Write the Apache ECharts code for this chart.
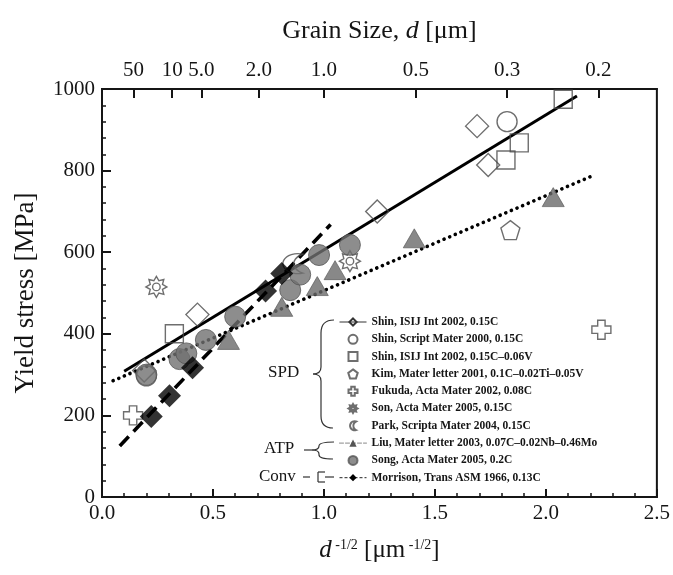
<!DOCTYPE html>
<html>
<head>
<meta charset="utf-8">
<script src="https://cdn.jsdelivr.net/npm/echarts@6/dist/echarts.min.js"></script>
<style>
  html, body { margin: 0; padding: 0; background: #fff; }
  #chart { width: 673px; height: 575px; }
</style>
</head>
<body>
<div id="chart"></div>
<script>
// legend names
const SHIN_ISIJ = 'Shin, ISIJ Int 2002, 0.15C';
const SHIN_SM = 'Shin, Script Mater 2000, 0.15C';
const SHIN_V = 'Shin, ISIJ Int 2002, 0.15C\u20130.06V';
const KIM = 'Kim, Mater letter 2001, 0.1C\u20130.02Ti\u20130.05V';
const FUKUDA = 'Fukuda, Acta Mater 2002, 0.08C';
const SON = 'Son, Acta Mater 2005, 0.15C';
const PARK = 'Park, Scripta Mater 2004, 0.15C';
const LIU = 'Liu, Mater letter 2003, 0.07C\u20130.02Nb\u20130.46Mo';
const SONG = 'Song, Acta Mater 2005, 0.2C';
const MORRISON = 'Morrison, Trans ASM 1966, 0.13C';

// data points [d^-1/2, yield stress]
const shinIsij = [[0.19, 310], [0.43, 447], [1.24, 700], [1.69, 909], [1.74, 814]];
const shinSm = [[0.2, 297], [1.825, 920]];
const shinV = [[0.326, 400], [1.82, 826], [1.88, 868], [2.078, 975]];
const kim = [[1.84, 654]];
const fukuda = [[0.14, 200], [2.25, 410]];
const son = [[0.245, 515], [1.117, 578]];
const park = [[0.86, 572]];
const liu = [[0.57, 385], [0.81, 466], [0.97, 517], [1.05, 556], [1.407, 634], [2.033, 735]];
const song = [[0.2, 300], [0.349, 338], [0.38, 352], [0.468, 385], [0.60, 442],
              [0.848, 507], [0.893, 545], [0.978, 593], [1.117, 618]];
const morrison = [[0.222, 197], [0.304, 248], [0.408, 317], [0.737, 505], [0.81, 548]];

// fit lines
const spdFit = [[0.1, 308], [2.14, 983]];
const atpFit = [[0.05, 285], [2.2, 785]];
const convFit = [[0.08, 125], [1.03, 668]];

// top axis: grain size ticks
const grainSizes = [50, 10, 5, 2, 1, 0.5, 0.3, 0.2];
const grainLabels = ['50', '10', '5.0', '2.0', '1.0', '0.5', '0.3', '0.2'];
const grainPos = grainSizes.map(d => 1 / Math.sqrt(d));

const FONT = 'Liberation Serif';
const INK = '#151515';
const OPEN = 'rgba(255,255,255,0)';

function sunPath() {
  let p = '';
  for (let i = 0; i < 16; i++) {
    const r = i % 2 === 0 ? 10 : 6.3;
    const a = i * Math.PI / 8 - Math.PI / 2;
    p += (i === 0 ? 'M' : 'L') + (r * Math.cos(a)).toFixed(2) + ',' + (r * Math.sin(a)).toFixed(2) + ' ';
  }
  p += 'Z M3.6,0 A3.6,3.6 0 1,1 -3.6,0 A3.6,3.6 0 1,1 3.6,0 Z';
  return 'path://' + p;
}

const SQUARE = 'path://M0,0 L10,0 L10,10 L0,10 Z';
const PENTAGON = 'path://M0,-10 L9.5,-3.1 L5.9,8.1 L-5.9,8.1 L-9.5,-3.1 Z';
const CROSS = 'path://M-3.5,-9 L3.5,-9 L3.5,-3.5 L9,-3.5 L9,3.5 L3.5,3.5 L3.5,9 L-3.5,9 L-3.5,3.5 L-9,3.5 L-9,-3.5 L-3.5,-3.5 Z';
const CRESCENT = 'path://M3,-9 A9.5,9.5 0 1,0 3,9 A10,10 0 0,1 3,-9 Z';

function openScatter(name, data, symbol, size) {
  return {
    name, type: 'scatter', data, symbol, symbolSize: size, z: 3,
    itemStyle: { color: OPEN, borderColor: '#4a4a4a', borderWidth: 1.4 }
  };
}

function fitLine(name, data, symbol, lineStyle, itemStyle) {
  return {
    name, type: 'line', data, symbol, showSymbol: false, silent: true, z: 2,
    lineStyle, itemStyle
  };
}

// bracket pieces for the legend groups
const bracketStyle = { stroke: '#333', lineWidth: 1.2, fill: null };
function seg(x1, y1, x2, y2) {
  return { type: 'line', silent: true, shape: { x1, y1, x2, y2 }, style: bracketStyle };
}
function quad(x1, y1, cx, cy, x2, y2) {
  return { type: 'bezierCurve', silent: true, shape: { x1, y1, x2, y2, cpx1: cx, cpy1: cy }, style: bracketStyle };
}

const chart = echarts.init(document.getElementById('chart'));

chart.setOption({
  animation: false,
  grid: {
    left: 102, right: 12, top: 89, bottom: 78,
    show: true, borderColor: INK, borderWidth: 2, backgroundColor: 'transparent'
  },
  xAxis: [
    {
      type: 'value', position: 'bottom', min: 0, max: 2.5, interval: 0.5,
      axisLine: { lineStyle: { color: INK, width: 2 } },
      axisTick: { inside: true, length: 8, lineStyle: { width: 2, color: INK } },
      minorTick: { show: true, splitNumber: 5, length: 4, lineStyle: { width: 1.5, color: INK } },
      splitLine: { show: false },
      axisLabel: {
        margin: 6, color: INK, fontFamily: FONT, fontSize: 21,
        formatter: v => v.toFixed(1)
      },
      name: '{i|d}{s| -1/2} [\u03bcm{s| -1/2}]',
      nameLocation: 'middle', nameGap: 41,
      nameTextStyle: {
        color: INK, fontFamily: FONT, fontSize: 25,
        rich: {
          i: { fontFamily: FONT, fontSize: 25, fontStyle: 'italic', color: INK },
          s: { fontFamily: FONT, fontSize: 14, color: INK, verticalAlign: 'top', padding: [0, 0, 11, 0] }
        }
      }
    },
    {
      type: 'value', position: 'top', min: 0, max: 2.5,
      axisLine: { lineStyle: { color: INK, width: 2 } },
      axisTick: { inside: true, length: 9, customValues: grainPos, lineStyle: { width: 2, color: INK } },
      splitLine: { show: false },
      axisLabel: {
        margin: 8, color: INK, fontFamily: FONT, fontSize: 21, hideOverlap: false,
        customValues: grainPos,
        formatter: v => {
          const i = grainPos.findIndex(p => Math.abs(p - v) < 1e-6);
          return i >= 0 ? grainLabels[i] : '';
        }
      },
      name: 'Grain Size, {i|d} [\u03bcm]',
      nameLocation: 'middle', nameGap: 45,
      nameTextStyle: {
        color: INK, fontFamily: FONT, fontSize: 26,
        rich: { i: { fontFamily: FONT, fontSize: 26, fontStyle: 'italic', color: INK } }
      }
    }
  ],
  yAxis: {
    type: 'value', min: 0, max: 1000, interval: 200,
    axisLine: { lineStyle: { color: INK, width: 2 } },
    axisTick: { inside: true, length: 9, lineStyle: { width: 2, color: INK } },
    minorTick: { show: true, splitNumber: 5, length: 4, lineStyle: { width: 1.5, color: INK } },
    splitLine: { show: false },
    axisLabel: { margin: 7, color: INK, fontFamily: FONT, fontSize: 21, formatter: v => String(v) },
    name: 'Yield stress [MPa]',
    nameLocation: 'middle', nameGap: 63,
    nameTextStyle: { color: INK, fontFamily: FONT, fontSize: 27 }
  },
  legend: {
    orient: 'vertical', left: 334, top: 311,
    itemWidth: 27, itemHeight: 9, itemGap: 5.3,
    selectedMode: false,
    textStyle: { fontFamily: FONT, fontSize: 11.5, fontWeight: 'bold', color: INK },
    data: [
      { name: SHIN_ISIJ, lineStyle: { width: 1, color: '#333', type: 'solid' } },
      SHIN_SM, SHIN_V, KIM, FUKUDA, SON, PARK,
      { name: LIU, lineStyle: { width: 1, color: '#888', type: [4, 2] } },
      SONG,
      { name: MORRISON, lineStyle: { width: 1, color: '#222', type: [3, 2] } }
    ]
  },
  graphic: [
    { type: 'text', left: 268, top: 364, style: { text: 'SPD', font: '17px "Liberation Serif"', fill: INK } },
    { type: 'text', left: 264, top: 440, style: { text: 'ATP', font: '17px "Liberation Serif"', fill: INK } },
    { type: 'text', left: 259, top: 468, style: { text: 'Conv', font: '17px "Liberation Serif"', fill: INK } },
    // SPD brace
    quad(334, 320, 321, 320, 321, 333), seg(321, 333, 321, 367),
    quad(321, 367, 321, 374, 313, 374), quad(313, 374, 321, 374, 321, 381),
    seg(321, 381, 321, 416), quad(321, 416, 321, 428, 333, 428),
    // ATP brace
    quad(334, 442, 319, 442, 319, 446), quad(319, 446, 319, 450, 312, 450), seg(312, 450, 304, 450),
    quad(312, 450, 319, 450, 319, 454), seg(319, 454, 319, 455), quad(319, 455, 319, 459, 333, 459),
    // Conv bracket
    seg(303, 477, 310, 477), seg(325, 472, 318, 472), seg(318, 472, 318, 482), seg(318, 482, 325, 482),
    seg(325, 477, 334, 477)
  ],
  series: [
    fitLine(SHIN_ISIJ, spdFit, 'diamond',
      { color: '#000', width: 3 },
      { color: OPEN, borderColor: '#333', borderWidth: 1 }),
    fitLine(LIU, atpFit, 'triangle',
      { color: '#000', width: 3.6, type: [0.1, 6], cap: 'round' },
      { color: '#555' }),
    fitLine(MORRISON, convFit, 'diamond',
      { color: '#000', width: 3.6, type: [13, 7] },
      { color: '#000' }),
    openScatter(SHIN_ISIJ, shinIsij, 'diamond', [23, 23]),
    openScatter(SHIN_SM, shinSm, 'circle', 20),
    openScatter(SHIN_V, shinV, SQUARE, 18),
    openScatter(KIM, kim, PENTAGON, 19),
    openScatter(FUKUDA, fukuda, CROSS, 19),
    openScatter(SON, son, sunPath(), 21),
    openScatter(PARK, park, CRESCENT, 20),
    {
      name: LIU, type: 'scatter', data: liu, symbol: 'triangle', symbolSize: [22, 19], z: 4,
      itemStyle: { color: '#6a6a6a', borderColor: '#555', borderWidth: 0.8 }
    },
    {
      name: SONG, type: 'scatter', data: song, symbol: 'circle', symbolSize: 21, z: 4,
      itemStyle: { color: '#707070', borderColor: '#555', borderWidth: 1 }
    },
    {
      name: MORRISON, type: 'scatter', data: morrison, symbol: 'diamond', symbolSize: 23, z: 5,
      itemStyle: { color: '#000' }
    }
  ]
});
</script>
</body>
</html>
